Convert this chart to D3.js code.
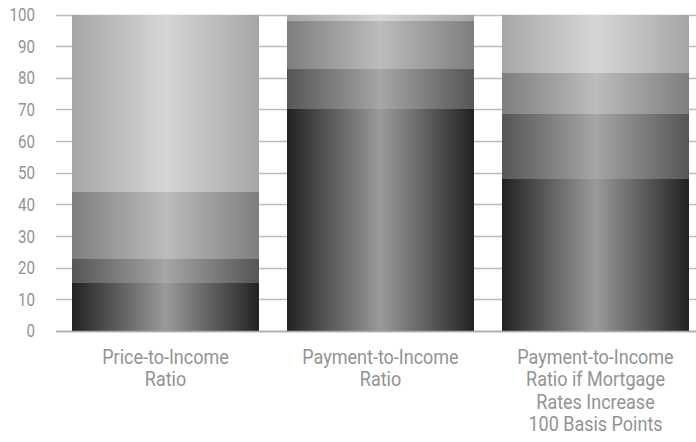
<!DOCTYPE html>
<html>
<head>
<meta charset="utf-8">
<script src="https://cdn.jsdelivr.net/npm/d3@7"></script>
<style>
  body { margin: 0; background: #fff; }
  text { font-family: "Roboto", "Liberation Sans", sans-serif; fill: #939393; }
</style>
</head>
<body>
<svg width="696" height="442"></svg>
<script>
var categories = [
  ["Price-to-Income", "Ratio"],
  ["Payment-to-Income", "Ratio"],
  ["Payment-to-Income", "Ratio if Mortgage", "Rates Increase", "100 Basis Points"]
];
// stacked segments, bottom to top (percent)
var seg1 = [15.3, 70.0, 48.0];
var seg2 = [7.4, 12.8, 20.5];
var seg3 = [21.3, 15.2, 13.0];
var seg4 = [56.0, 2.0, 18.5];
var yTicks = [0, 10, 20, 30, 40, 50, 60, 70, 80, 90, 100];

// edge / centre shades for each layer's horizontal gradient
var shades = [
  ["#222222", "#9a9a9a"],
  ["#555555", "#a6a6a6"],
  ["#7e7e7e", "#bcbcbc"],
  ["#a6a6a6", "#d6d6d6"]
];

var svg = d3.select("svg"),
    width = +svg.attr("width"),
    height = +svg.attr("height");

var rows = categories.map(function (c, i) {
  return {i: i, s0: seg1[i], s1: seg2[i], s2: seg3[i], s3: seg4[i]};
});
var stack = d3.stack().keys(["s0", "s1", "s2", "s3"])(rows);

var x = d3.scaleBand()
    .domain(d3.range(categories.length))
    .range([72, 689])
    .paddingInner(28 / 215)
    .paddingOuter(0);

var y = d3.scaleLinear().domain([0, 100]).range([331, 14.5]);

var defs = svg.append("defs");
shades.forEach(function (s, k) {
  var g = defs.append("linearGradient")
      .attr("id", "grad" + k)
      .attr("x1", "0%").attr("x2", "100%")
      .attr("y1", "0%").attr("y2", "0%");
  g.append("stop").attr("offset", "0%").attr("stop-color", s[0]);
  g.append("stop").attr("offset", "50%").attr("stop-color", s[1]);
  g.append("stop").attr("offset", "100%").attr("stop-color", s[0]);
});

// gridlines
svg.append("g").selectAll("line")
    .data(yTicks)
    .enter().append("line")
    .attr("x1", 56).attr("x2", width)
    .attr("y1", function (d) { return Math.round(y(d)) + 0.5; })
    .attr("y2", function (d) { return Math.round(y(d)) + 0.5; })
    .style("stroke", "#bdbdbd")
    .style("stroke-width", "1.5px");

// tick labels (narrowed to look condensed)
svg.append("g").selectAll("g")
    .data(yTicks)
    .enter().append("g")
    .attr("transform", function (d) { return "translate(35," + y(d) + ") scale(0.84,1)"; })
    .append("text")
    .attr("dy", "0.36em")
    .attr("text-anchor", "end")
    .style("font-size", "18px")
    .text(function (d) { return d; });

// stacked bars, edges snapped to whole pixels
var layer = svg.append("g").selectAll("g")
    .data(stack)
    .enter().append("g")
    .attr("fill", function (d, k) { return "url(#grad" + k + ")"; });

layer.selectAll("rect")
    .data(function (d) { return d; })
    .enter().append("rect")
    .attr("x", function (d) { return x(d.data.i); })
    .attr("width", x.bandwidth())
    .attr("y", function (d) { return Math.round(y(d[1])); })
    .attr("height", function (d) { return Math.round(y(d[0])) - Math.round(y(d[1])); });

// baseline over the bars
svg.append("line")
    .attr("x1", 56).attr("x2", width)
    .attr("y1", y(0) + 0.5).attr("y2", y(0) + 0.5)
    .style("stroke", "#aaaaaa")
    .style("stroke-width", "1.5px");

// category labels
var labels = svg.append("g").selectAll("g")
    .data(categories)
    .enter().append("g")
    .attr("transform", function (d, i) {
      return "translate(" + (x(i) + x.bandwidth() / 2) + ",364) scale(0.9,1)";
    })
    .append("text")
    .attr("text-anchor", "middle")
    .style("font-size", "20px");

labels.selectAll("tspan")
    .data(function (d) { return d; })
    .enter().append("tspan")
    .attr("x", 0)
    .attr("dy", function (d, j) { return j === 0 ? 0 : 22.5; })
    .text(function (d) { return d; });
</script>
</body>
</html>
